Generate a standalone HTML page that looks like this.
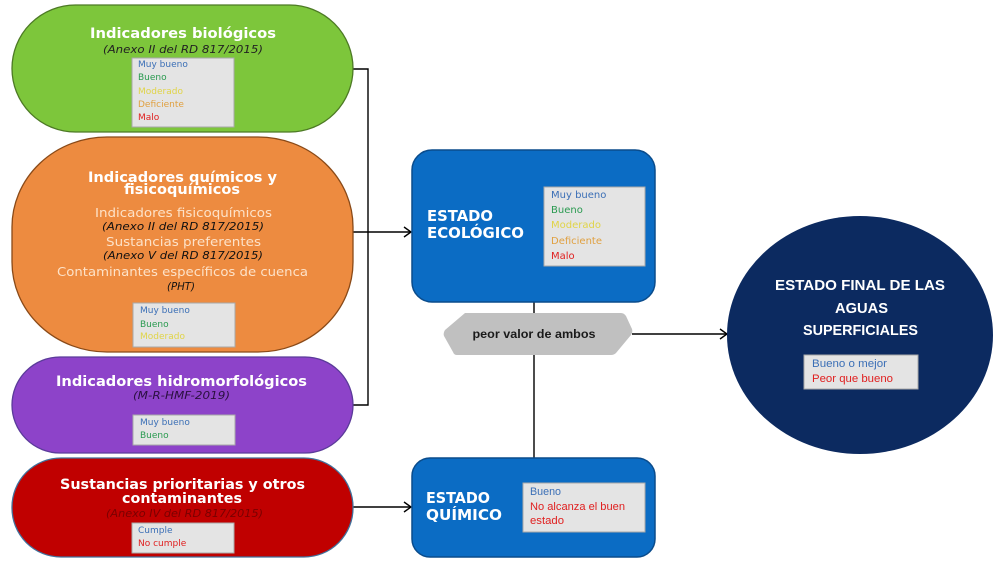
<!DOCTYPE html>
<html><head><meta charset="utf-8">
<style>
html,body{margin:0;padding:0;background:#fff;}
svg{display:block;}
.t{font-family:"DejaVu Sans","Liberation Sans",sans-serif;font-weight:bold;fill:#fff;}
.it{font-family:"DejaVu Sans","Liberation Sans",sans-serif;font-style:italic;}
.lg{font-family:"DejaVu Sans","Liberation Sans",sans-serif;font-size:9px;}
.lg2{font-family:"Liberation Sans","DejaVu Sans",sans-serif;font-size:11px;}
.cb{font-family:"Liberation Sans","DejaVu Sans",sans-serif;font-weight:bold;fill:#fff;}
</style></head>
<body>
<svg width="1000" height="563" viewBox="0 0 1000 563" xmlns="http://www.w3.org/2000/svg">
<rect width="1000" height="563" fill="#fff"/>

<!-- connectors -->
<g stroke="#000" stroke-width="1.4" fill="none">
<path d="M352 69 H368 V405 H352"/>
<path d="M352 232 H411"/>
<path d="M404 227 L411 232 L404 237"/>
<path d="M352 507 H411"/>
<path d="M404 502 L411 507 L404 512"/>
<path d="M534 302 V313"/>
<path d="M534 355 V458"/>
<path d="M632 334 H727"/>
<path d="M720 329 L727 334 L720 339"/>
</g>

<!-- green pill -->
<rect x="12" y="5" width="341" height="127" rx="63.5" ry="63.5" fill="#7dc63b" stroke="#4d7a25" stroke-width="1.3"/>
<text class="t" x="90" y="38" font-size="14" textLength="186" lengthAdjust="spacingAndGlyphs">Indicadores biológicos</text>
<text class="it" x="103" y="53" font-size="11" fill="#222" textLength="160" lengthAdjust="spacingAndGlyphs">(Anexo II del RD 817/2015)</text>
<rect x="132" y="58" width="102" height="69" fill="#e4e4e4" stroke="#a8a8a8" stroke-width="1"/>
<g class="lg">
<text x="138" y="67" fill="#3b6fb6">Muy bueno</text>
<text x="138" y="80" fill="#2a9a50">Bueno</text>
<text x="138" y="94" fill="#e0d448">Moderado</text>
<text x="138" y="107" fill="#e0a040">Deficiente</text>
<text x="138" y="120" fill="#e02020">Malo</text>
</g>

<!-- orange pill -->
<rect x="12" y="137" width="341" height="215" rx="95" ry="90" fill="#ed8b40" stroke="#8a4a18" stroke-width="1.3"/>
<text class="t" x="88" y="182" font-size="14" textLength="189" lengthAdjust="spacingAndGlyphs">Indicadores químicos y</text>
<text class="t" x="124" y="194" font-size="14" textLength="116" lengthAdjust="spacingAndGlyphs">fisicoquímicos</text>
<text x="95" y="217" font-family="DejaVu Sans, sans-serif" font-size="12" fill="#fde2c8" textLength="177" lengthAdjust="spacingAndGlyphs">Indicadores fisicoquímicos</text>
<text class="it" x="102" y="230" font-size="11" fill="#111" textLength="162" lengthAdjust="spacingAndGlyphs">(Anexo II del RD 817/2015)</text>
<text x="106" y="246" font-family="DejaVu Sans, sans-serif" font-size="12" fill="#fde2c8" textLength="155" lengthAdjust="spacingAndGlyphs">Sustancias preferentes</text>
<text class="it" x="103" y="259" font-size="11" fill="#111" textLength="160" lengthAdjust="spacingAndGlyphs">(Anexo V del RD 817/2015)</text>
<text x="57" y="276" font-family="DejaVu Sans, sans-serif" font-size="12" fill="#fde2c8" textLength="251" lengthAdjust="spacingAndGlyphs">Contaminantes específicos de cuenca</text>
<text class="it" x="167" y="290" font-size="11" fill="#111" textLength="28" lengthAdjust="spacingAndGlyphs">(PHT)</text>
<rect x="133" y="303" width="102" height="44" fill="#e4e4e4" stroke="#a8a8a8" stroke-width="1"/>
<g class="lg">
<text x="140" y="313" fill="#3b6fb6">Muy bueno</text>
<text x="140" y="327" fill="#2a9a50">Bueno</text>
<text x="140" y="339" fill="#e0d448">Moderado</text>
</g>

<!-- purple pill -->
<rect x="12" y="357" width="341" height="96" rx="48" ry="48" fill="#8d43c9" stroke="#5b3b9a" stroke-width="1.3"/>
<text class="t" x="56" y="386" font-size="14" textLength="251" lengthAdjust="spacingAndGlyphs">Indicadores hidromorfológicos</text>
<text class="it" x="133" y="399" font-size="11" fill="#2a1040" textLength="97" lengthAdjust="spacingAndGlyphs">(M-R-HMF-2019)</text>
<rect x="133" y="415" width="102" height="30" fill="#e4e4e4" stroke="#a8a8a8" stroke-width="1"/>
<g class="lg">
<text x="140" y="425" fill="#3b6fb6">Muy bueno</text>
<text x="140" y="438" fill="#2a9a50">Bueno</text>
</g>

<!-- red pill -->
<rect x="12" y="458" width="341" height="99" rx="49" ry="49" fill="#c00000" stroke="#41719c" stroke-width="1.3"/>
<text class="t" x="60" y="489" font-size="14" textLength="245" lengthAdjust="spacingAndGlyphs">Sustancias prioritarias y otros</text>
<text class="t" x="122" y="503" font-size="14" textLength="120" lengthAdjust="spacingAndGlyphs">contaminantes</text>
<text class="it" x="106" y="517" font-size="11" fill="#7a0000" textLength="157" lengthAdjust="spacingAndGlyphs">(Anexo IV del RD 817/2015)</text>
<rect x="132" y="523" width="102" height="30" fill="#e4e4e4" stroke="#a8a8a8" stroke-width="1"/>
<g class="lg">
<text x="138" y="533" fill="#3b6fb6">Cumple</text>
<text x="138" y="546" fill="#e02020">No cumple</text>
</g>

<!-- estado ecologico -->
<rect x="412" y="150" width="243" height="152" rx="20" ry="20" fill="#0b6cc4" stroke="#0a4c8c" stroke-width="1.5"/>
<text class="t" x="427" y="221" font-size="15" textLength="66" lengthAdjust="spacingAndGlyphs">ESTADO</text>
<text class="t" x="427" y="238" font-size="15" textLength="97" lengthAdjust="spacingAndGlyphs">ECOLÓGICO</text>
<rect x="544" y="187" width="101" height="79" fill="#e4e4e4" stroke="#a8a8a8" stroke-width="1"/>
<g class="lg" style="font-size:10px">
<text x="551" y="198" fill="#3b6fb6">Muy bueno</text>
<text x="551" y="213" fill="#2a9a50">Bueno</text>
<text x="551" y="228" fill="#e0d448">Moderado</text>
<text x="551" y="244" fill="#e0a040">Deficiente</text>
<text x="551" y="259" fill="#e02020">Malo</text>
</g>

<!-- peor valor -->
<path d="M465 313 H621 Q624 313 626 316 L632 329 Q633 332 631 335 L616 353 Q614 355 611 355 H457 Q454 355 453 352 L444 336 Q443 333 445 330 Z" fill="#c0c0c0"/>
<text x="534" y="338" text-anchor="middle" font-family="Liberation Sans, DejaVu Sans, sans-serif" font-weight="bold" font-size="12" fill="#1a1a1a" textLength="123" lengthAdjust="spacingAndGlyphs">peor valor de ambos</text>

<!-- estado quimico -->
<rect x="412" y="458" width="243" height="99" rx="18" ry="18" fill="#0b6cc4" stroke="#0a4c8c" stroke-width="1.5"/>
<text class="t" x="426" y="503" font-size="15" textLength="64" lengthAdjust="spacingAndGlyphs">ESTADO</text>
<text class="t" x="426" y="520" font-size="15" textLength="76" lengthAdjust="spacingAndGlyphs">QUÍMICO</text>
<rect x="523" y="483" width="122" height="49" fill="#e4e4e4" stroke="#a8a8a8" stroke-width="1"/>
<g class="lg2">
<text x="530" y="495" fill="#3b6fb6" textLength="31" lengthAdjust="spacingAndGlyphs">Bueno</text>
<text x="530" y="510" fill="#e02020" textLength="95" lengthAdjust="spacingAndGlyphs">No alcanza el buen</text>
<text x="530" y="524" fill="#e02020" textLength="34" lengthAdjust="spacingAndGlyphs">estado</text>
</g>

<!-- final circle -->
<ellipse cx="860" cy="335" rx="133" ry="119" fill="#0c2a60"/>
<text class="cb" x="775" y="290" font-size="15" textLength="170" lengthAdjust="spacingAndGlyphs">ESTADO FINAL DE LAS</text>
<text class="cb" x="835" y="313" font-size="15" textLength="53" lengthAdjust="spacingAndGlyphs">AGUAS</text>
<text class="cb" x="803" y="335" font-size="15" textLength="115" lengthAdjust="spacingAndGlyphs">SUPERFICIALES</text>
<rect x="804" y="355" width="114" height="34" fill="#e4e4e4" stroke="#a8a8a8" stroke-width="1"/>
<g class="lg2">
<text x="812" y="367" fill="#3b6fb6" textLength="75" lengthAdjust="spacingAndGlyphs">Bueno o mejor</text>
<text x="812" y="382" fill="#e02020" textLength="81" lengthAdjust="spacingAndGlyphs">Peor que bueno</text>
</g>
</svg>
</body></html>
